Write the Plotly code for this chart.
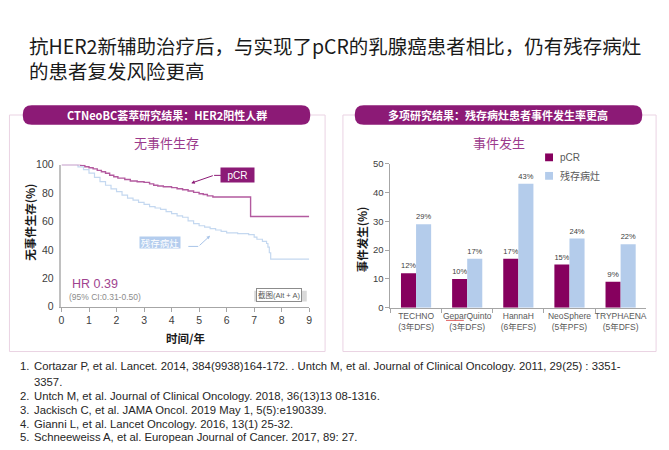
import plotly.graph_objects as go

W, H = 669, 450

# ---------------- data ----------------
title_line1 = "抗HER2新辅助治疗后，与实现了pCR的乳腺癌患者相比，仍有残存病灶"
title_line2 = "的患者复发风险更高"

km_pcr_t = [0, 0.55, 0.7, 0.85, 1.0, 1.15, 1.3, 1.45, 1.6, 1.75, 1.9, 2.05, 2.3, 2.5, 2.75, 3.0,
            3.2, 3.35, 3.5, 3.7, 4.0, 4.2, 4.4, 4.6, 4.8, 5.0, 5.15, 5.3, 5.5, 6.87, 9.0]
km_pcr_v = [100, 100, 99.5, 98.5, 97.8, 97, 96, 95, 94, 92.5, 91.5, 90.5, 89.5, 88.5, 88, 87.5,
            86.5, 85.5, 85, 84.5, 83.8, 83, 82.3, 81.5, 80.5, 79.5, 79, 78, 77.2, 63.5, 63.5]

km_rd_t = [0, 0.45, 0.6, 0.8, 1.0, 1.2, 1.4, 1.6, 1.8, 2.0, 2.2, 2.4, 2.6, 2.8, 3.0, 3.2, 3.4, 3.6,
           3.8, 4.0, 4.2, 4.4, 4.6, 4.8, 5.0, 5.2, 5.4, 5.6, 5.8, 6.0, 6.4, 6.8, 7.0, 7.1, 7.3,
           7.45, 7.5, 7.55, 7.6, 9.0]
km_rd_v = [100, 100, 98.5, 96.5, 94, 91, 88, 85.5, 83, 81, 78.5, 76.5, 75, 73.5, 72, 70.5, 69.5,
           68.5, 67, 65.5, 64, 63, 60.5, 58.5, 57, 56, 55, 54, 53, 52, 51.5, 50.7, 49, 47.5, 46,
           44.5, 42, 38, 33.5, 33.5]

km_x_ticks = [0, 1, 2, 3, 4, 5, 6, 7, 8, 9]
km_y_ticks = [0, 20, 40, 60, 80, 100]

studies = ["TECHNO<br>(3年DFS)", "GeparQuinto<br>(3年DFS)", "HannaH<br>(6年EFS)",
           "NeoSphere<br>(5年PFS)", "TRYPHAENA<br>(5年DFS)"]
events_pcr = [12, 10, 17, 15, 9]
events_rd = [29, 17, 43, 24, 22]
bar_y_ticks = [0, 10, 20, 30, 40, 50]

footnotes = [
    ("1.", "Cortazar P, et al. Lancet. 2014, 384(9938)164-172. . Untch M, et al. Journal of Clinical Oncology. 2011, 29(25) : 3351-"),
    ("", "3357."),
    ("2.", "Untch M, et al. Journal of Clinical Oncology. 2018, 36(13)13 08-1316."),
    ("3.", "Jackisch C, et al. JAMA Oncol. 2019 May 1, 5(5):e190339."),
    ("4.", "Gianni L, et al. Lancet Oncology. 2016, 13(1) 25-32."),
    ("5.", "Schneeweiss A, et al. European Journal of Cancer. 2017, 89: 27."),
]

# ---------------- styles ----------------
PURPLE = "#8c1a76"
BAR_PURPLE = "#86005e"
BAR_BLUE = "#b4cceb"
KM_PCR = "#b35a9f"
KM_RD = "#c4d8f0"
AX = "#a6a6a6"
TXT = "#404040"
CJK = "Noto Sans CJK SC"
LAT = "Liberation Sans, Noto Sans CJK SC"


def X(p):
    return p / W


def Y(p):
    return 1 - p / H


def pill_path(x0, y0, x1, y1, r):
    def P(x, y):
        return f"{X(x):.5f},{Y(y):.5f}"
    return (f"M {P(x0 + r, y0)} L {P(x1 - r, y0)} Q {P(x1, y0)} {P(x1, y0 + r)} "
            f"L {P(x1, y1 - r)} Q {P(x1, y1)} {P(x1 - r, y1)} L {P(x0 + r, y1)} "
            f"Q {P(x0, y1)} {P(x0, y1 - r)} L {P(x0, y0 + r)} Q {P(x0, y0)} {P(x0 + r, y0)} Z")


annotations = []
shapes = []


def ann(text, x, y, size, color, family=LAT, xanchor="center", **kw):
    d = dict(text=text, x=X(x), y=Y(y), xref="paper", yref="paper", xanchor=xanchor, yanchor="middle",
             showarrow=False, font=dict(family=family, size=size, color=color))
    d.update(kw)
    annotations.append(d)


fig = go.Figure()

# KM curves
fig.add_trace(go.Scatter(x=km_rd_t, y=km_rd_v, mode="lines", line=dict(color=KM_RD, width=1.2, shape="hv"),
                         xaxis="x", yaxis="y", showlegend=False, hoverinfo="skip"))
fig.add_trace(go.Scatter(x=km_pcr_t, y=km_pcr_v, mode="lines", line=dict(color=KM_PCR, width=1.4, shape="hv"),
                         xaxis="x", yaxis="y", showlegend=False, hoverinfo="skip"))

# Bars
fig.add_trace(go.Bar(x=studies, y=events_pcr, marker=dict(color=BAR_PURPLE, line=dict(width=0)),
                     text=[f"{v}%" for v in events_pcr], textposition="outside",
                     textfont=dict(size=8, color=TXT, family=LAT), cliponaxis=False,
                     xaxis="x2", yaxis="y2", showlegend=False, name="pCR"))
fig.add_trace(go.Bar(x=studies, y=events_rd, marker=dict(color=BAR_BLUE, line=dict(width=0)),
                     text=[f"{v}%" for v in events_rd], textposition="outside",
                     textfont=dict(size=8, color=TXT, family=LAT), cliponaxis=False,
                     xaxis="x2", yaxis="y2", showlegend=False, name="残存病灶"))

# panel boxes
shapes.append(dict(type="rect", xref="paper", yref="paper", x0=X(6.5), x1=X(325), y0=Y(355), y1=Y(112),
                   line=dict(color="#ead3e3", width=1), fillcolor="rgba(0,0,0,0)", layer="below"))
shapes.append(dict(type="rect", xref="paper", yref="paper", x0=X(343), x1=X(659), y0=Y(355), y1=Y(112),
                   line=dict(color="#ead3e3", width=1), fillcolor="rgba(0,0,0,0)", layer="below"))
# pills
shapes.append(dict(type="path", xref="paper", yref="paper", path=pill_path(20, 102, 310, 122, 9),
                   fillcolor=PURPLE, line=dict(width=0)))
shapes.append(dict(type="path", xref="paper", yref="paper", path=pill_path(355, 102, 645, 122, 9),
                   fillcolor=PURPLE, line=dict(width=0)))

# title (two lines in one block)
ann(title_line1 + "<br>" + title_line2, 24, 53.5, 19.5, "#1a1a1a", family=CJK, xanchor="left", align="left")

# pill texts
ann("<b>CTNeoBC荟萃研究结果：HER2阳性人群</b>", 165, 112, 11, "white", family=CJK)
ann("<b>多项研究结果：残存病灶患者事件发生率更高</b>", 499, 112, 11, "white", family=CJK)

# subtitles
ann("无事件生存", 165, 140, 13, "#9b3a8c", family=CJK)
ann("事件发生", 500, 140, 13, "#9b3a8c", family=CJK)

# axis titles
ann("<b>无事件生存(%)</b>", 27, 222, 11.5, "#1a1a1a", family=CJK, textangle=-90)
ann("<b>时间/年</b>", 184, 341, 11.5, "#1a1a1a", family=CJK)
ann("<b>事件发生(%)</b>", 362, 240, 11.5, "#1a1a1a", family=CJK, textangle=-90)

# KM labels
ann("pCR", 236.5, 174, 10, "white", bgcolor=PURPLE, width=31, height=12, borderpad=1)
annotations.append(dict(text="", x=X(190), y=Y(182), xref="paper", yref="paper", showarrow=True,
                        ax=23, ay=-8, arrowhead=2, arrowsize=0.7, arrowwidth=1, arrowcolor=PURPLE))
shapes.append(dict(type="line", xref="paper", yref="paper", x0=X(213), x1=X(220), y0=Y(174), y1=Y(174),
                   line=dict(color=PURPLE, width=1)))

ann("残存病灶", 158, 242.5, 9.5, "white", family=CJK, bgcolor="#b4cdee", width=40, height=11, borderpad=0)
annotations.append(dict(text="", x=X(209), y=Y(236), xref="paper", yref="paper", showarrow=True,
                        ax=-12, ay=11, arrowhead=2, arrowsize=0.7, arrowwidth=1, arrowcolor="#a9c4e8"))
shapes.append(dict(type="line", xref="paper", yref="paper", x0=X(187), x1=X(197), y0=Y(247), y1=Y(247),
                   line=dict(color="#a9c4e8", width=1)))

# HR
ann("HR 0.39", 68, 286, 12.5, "#a0438f", xanchor="left")
ann("(95% CI:0.31-0.50)", 65, 298.5, 8.5, "#8c8c8c", xanchor="left")

# screenshot tooltip box
shapes.append(dict(type="rect", xref="paper", yref="paper", x0=X(253.5), x1=X(306.5), y0=Y(303.5), y1=Y(292.5),
                   line=dict(width=0), fillcolor="#d9d9d9"))
ann("截图(Alt + A)", 278, 297, 7.5, "#595959", bgcolor="white", bordercolor="#8c8c8c", borderwidth=1, borderpad=1)

# bar legend
shapes.append(dict(type="rect", xref="paper", yref="paper", x0=X(547), x1=X(555), y0=Y(159.5), y1=Y(151.5),
                   fillcolor=BAR_PURPLE, line=dict(width=0)))
shapes.append(dict(type="rect", xref="paper", yref="paper", x0=X(547), x1=X(555), y0=Y(178.5), y1=Y(170.5),
                   fillcolor=BAR_BLUE, line=dict(width=0)))
ann("pCR", 560, 155.5, 10, "#595959", xanchor="left")
ann("残存病灶", 560, 174.5, 10, "#595959", family=CJK, xanchor="left")

# spell-check squiggle under "Gepar"
shapes.append(dict(type="line", xref="paper", yref="paper", x0=X(447), x1=X(465), y0=Y(323), y1=Y(323),
                   line=dict(color="#e06060", width=1)))

# footnotes
fy = [370, 386, 401, 415, 429, 443]
for (num, txt), yy in zip(footnotes, fy):
    if num:
        ann(num, 15, yy, 11.3, "#262626", xanchor="left")
    ann(txt, 29, yy, 11.3, "#262626", xanchor="left")

fig.update_layout(
    width=W, height=H, margin=dict(l=0, r=0, t=0, b=0),
    paper_bgcolor="white", plot_bgcolor="white",
    font=dict(family=LAT, color=TXT),
    barmode="group", bargap=0.41, bargroupgap=0,
    shapes=shapes, annotations=annotations,
    xaxis=dict(domain=[X(59), X(309)], range=[0, 9], tickvals=km_x_ticks, showgrid=False, zeroline=False,
               showline=True, linecolor=AX, linewidth=1, ticks="outside", ticklen=4, tickcolor=AX,
               tickfont=dict(size=10.5, color=TXT, family=LAT), anchor="y", fixedrange=True),
    yaxis=dict(domain=[Y(309), Y(163)], range=[0, 100], tickvals=km_y_ticks, showgrid=False, zeroline=False,
               showline=True, linecolor="#c0c0c0", linewidth=1.5, ticks="", ticklabelstandoff=4,
               tickfont=dict(size=10.5, color=TXT, family=LAT), anchor="x", fixedrange=True),
    xaxis2=dict(domain=[X(391), X(649)], showgrid=False, zeroline=False, showline=True, linecolor=AX,
                linewidth=1, ticks="outside", tickson="boundaries", ticklen=4, tickcolor=AX, tickangle=0,
                tickfont=dict(size=8.5, color="#595959", family=LAT), anchor="y2", fixedrange=True),
    yaxis2=dict(domain=[Y(310), Y(162)], range=[0, 50], tickvals=bar_y_ticks, showgrid=False, zeroline=False,
                showline=True, linecolor=AX, linewidth=1, ticks="outside", ticklen=4, tickcolor=AX,
                tickfont=dict(size=9.5, color=TXT, family=LAT), anchor="x2", fixedrange=True),
)

fig.write_html("out.html", config={"displayModeBar": False},
               post_script="document.body.style.margin='0';document.documentElement.style.margin='0';")
